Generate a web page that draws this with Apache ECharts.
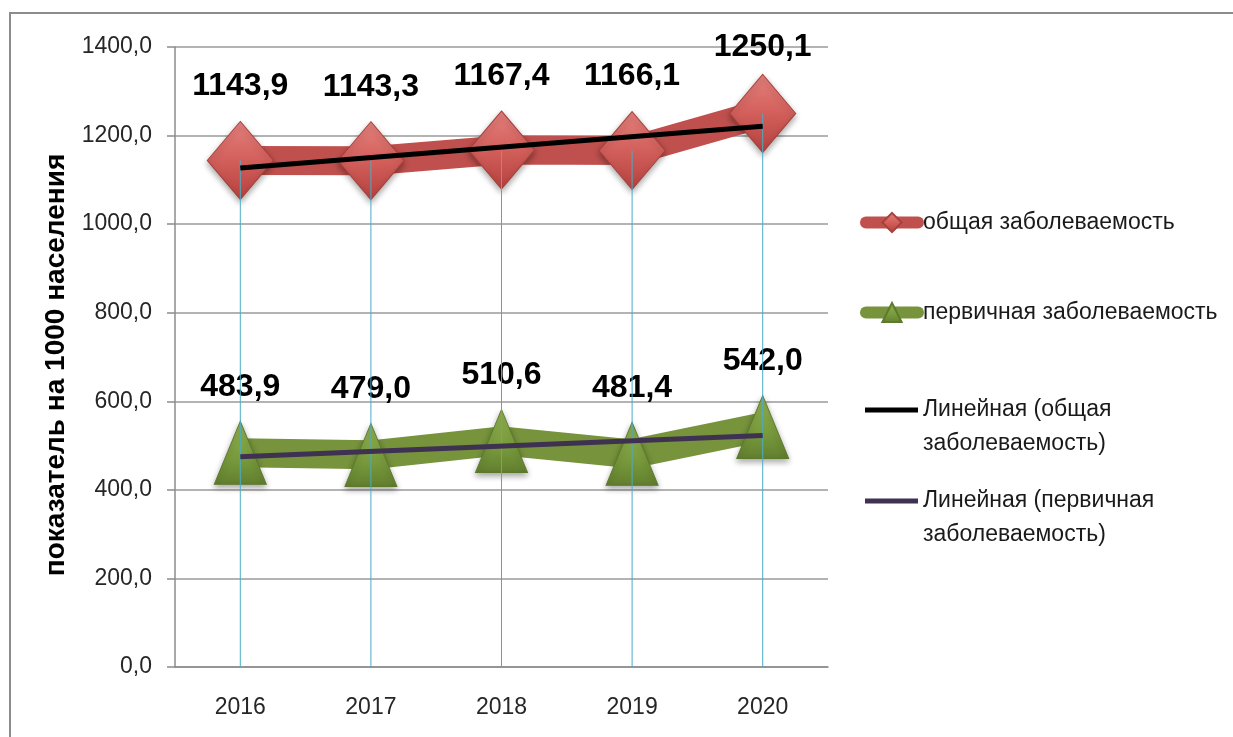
<!DOCTYPE html>
<html>
<head>
<meta charset="utf-8">
<script src="https://cdn.jsdelivr.net/npm/echarts@6/dist/echarts.min.js"></script>
<style>
    html, body { margin: 0; padding: 0; background: #fff; }
    #chart { width: 1233px; height: 737px; }
</style>
</head>
<body>
<div id="chart"></div>
<script>
// данные графика
var years = ['2016', '2017', '2018', '2019', '2020'];
var totalValues = [1143.9, 1143.3, 1167.4, 1166.1, 1250.1]; // общая заболеваемость
var primaryValues = [483.9, 479.0, 510.6, 481.4, 542.0]; // первичная заболеваемость
var totalTrend = [1127, '-', '-', '-', 1221]; // линейный тренд (общая), концы
var primaryTrend = [475, '-', '-', '-', 523]; // линейный тренд (первичная), концы
var yTicks = [0, 200, 400, 600, 800, 1000, 1200, 1400];

var chart = echarts.init(document.getElementById('chart'));

function comma(v) {
    return Number(v).toFixed(1).replace('.', ',');
}

var font = '"Liberation Sans", Arial, sans-serif';

// подписи красной серии, последнюю чуть ниже
var totalData = totalValues.map(function (v, i) {
    var item = { value: v };
    if (i === 4) item.label = { offset: [0, -66] };
    return item;
});

var option = {
    animation: false,
    graphic: [
        {
            type: 'rect',
            shape: { x: 10, y: 13, width: 1300, height: 800 },
            style: { fill: 'none', stroke: '#8c8c8c', lineWidth: 2 },
            silent: true,
            z: -1
        }
    ],
    grid: {
        left: 175,
        right: 405,
        top: 47,
        bottom: 70
    },
    legend: [
        {
            data: ['общая заболеваемость'],
            left: 860, top: 211, padding: 0,
            itemWidth: 52, itemHeight: 24,
            lineStyle: { width: 12, cap: 'round' },
            textStyle: { fontFamily: font, fontSize: 23, color: '#1a1a1a' }
        },
        {
            data: ['первичная заболеваемость'],
            left: 860, top: 301, padding: 0,
            itemWidth: 52, itemHeight: 24,
            lineStyle: { width: 12, cap: 'round' },
            textStyle: { fontFamily: font, fontSize: 23, color: '#1a1a1a' }
        },
        {
            data: [{ name: 'Линейная (общая заболеваемость)', icon: 'rect' }],
            left: 865, top: 359, padding: 0,
            itemWidth: 53, itemHeight: 5,
            formatter: '\nЛинейная (общая\nзаболеваемость)',
            textStyle: { fontFamily: font, fontSize: 23, lineHeight: 34, color: '#1a1a1a' }
        },
        {
            data: [{ name: 'Линейная (первичная заболеваемость)', icon: 'rect' }],
            left: 865, top: 450, padding: 0,
            itemWidth: 53, itemHeight: 5,
            formatter: '\nЛинейная (первичная\nзаболеваемость)',
            textStyle: { fontFamily: font, fontSize: 23, lineHeight: 34, color: '#1a1a1a' }
        }
    ],
    xAxis: {
        type: 'category',
        data: years,
        boundaryGap: true,
        axisLine: { lineStyle: { color: '#8c8c8c', width: 1.5 } },
        axisTick: { show: false },
        axisLabel: { fontFamily: font, fontSize: 23, color: '#262626', margin: 29 },
        splitLine: { show: false }
    },
    yAxis: {
        type: 'value',
        min: yTicks[0],
        max: yTicks[yTicks.length - 1],
        interval: 200,
        name: 'показатель на 1000 населения',
        nameLocation: 'middle',
        nameRotate: 90,
        nameGap: 74,
        nameTextStyle: { fontFamily: font, fontWeight: 'bold', fontSize: 28, color: '#000', padding: [0, 16, 0, 0] },
        axisLine: { show: true, lineStyle: { color: '#8c8c8c', width: 1.5 } },
        axisTick: { show: true, inside: false, length: 8, lineStyle: { color: '#8c8c8c', width: 1.5 } },
        axisLabel: {
            fontFamily: font, fontSize: 23, color: '#262626', margin: 23,
            formatter: function (v) { return comma(v); }
        },
        splitLine: { show: true, lineStyle: { color: '#9a9a9a', width: 1.5 } }
    },
    series: [
        {
            name: 'общая заболеваемость',
            type: 'line',
            data: totalData,
            z: 2,
            symbol: 'diamond',
            symbolSize: [66, 78],
            lineStyle: { color: '#c0504d', width: 29 },
            itemStyle: {
                color: new echarts.graphic.LinearGradient(0, 0, 0, 1, [
                    { offset: 0, color: '#e4817d' },
                    { offset: 0.5, color: '#d35f5b' },
                    { offset: 1, color: '#b3413d' }
                ]),
                borderColor: '#a8403c',
                borderWidth: 1,
                shadowBlur: 6,
                shadowOffsetY: 3,
                shadowColor: 'rgba(0,0,0,0.35)'
            },
            label: {
                show: true,
                position: 'inside',
                offset: [0, -74],
                fontFamily: font,
                fontWeight: 'bold',
                fontSize: 32,
                color: '#000',
                formatter: function (p) { return comma(p.value); }
            }
        },
        {
            name: 'первичная заболеваемость',
            type: 'line',
            data: primaryValues,
            z: 2,
            symbol: 'triangle',
            symbolSize: [52, 63],
            lineStyle: { color: '#77933c', width: 29 },
            itemStyle: {
                color: new echarts.graphic.LinearGradient(0, 0, 0, 1, [
                    { offset: 0, color: '#92b152' },
                    { offset: 0.6, color: '#789a3c' },
                    { offset: 1, color: '#627f2f' }
                ]),
                borderColor: '#5d7a2c',
                borderWidth: 1,
                shadowBlur: 6,
                shadowOffsetY: 3,
                shadowColor: 'rgba(0,0,0,0.35)'
            },
            label: {
                show: true,
                position: 'inside',
                offset: [0, -66],
                fontFamily: font,
                fontWeight: 'bold',
                fontSize: 32,
                color: '#000',
                formatter: function (p) { return comma(p.value); }
            }
        },
        {
            // линии проекции от точек к оси
            name: 'проекции',
            type: 'bar',
            data: totalValues,
            barWidth: 1,
            z: 3,
            silent: true,
            itemStyle: { color: '#4bacc6' }
        },
        {
            name: 'Линейная (общая заболеваемость)',
            type: 'line',
            data: totalTrend,
            connectNulls: true,
            z: 4,
            symbol: 'none',
            color: '#000000',
            lineStyle: { color: '#000000', width: 5 },
            silent: true
        },
        {
            name: 'Линейная (первичная заболеваемость)',
            type: 'line',
            data: primaryTrend,
            connectNulls: true,
            z: 4,
            symbol: 'none',
            color: '#3f3151',
            lineStyle: { color: '#3f3151', width: 5 },
            silent: true
        }
    ]
};

chart.setOption(option);
</script>
</body>
</html>
